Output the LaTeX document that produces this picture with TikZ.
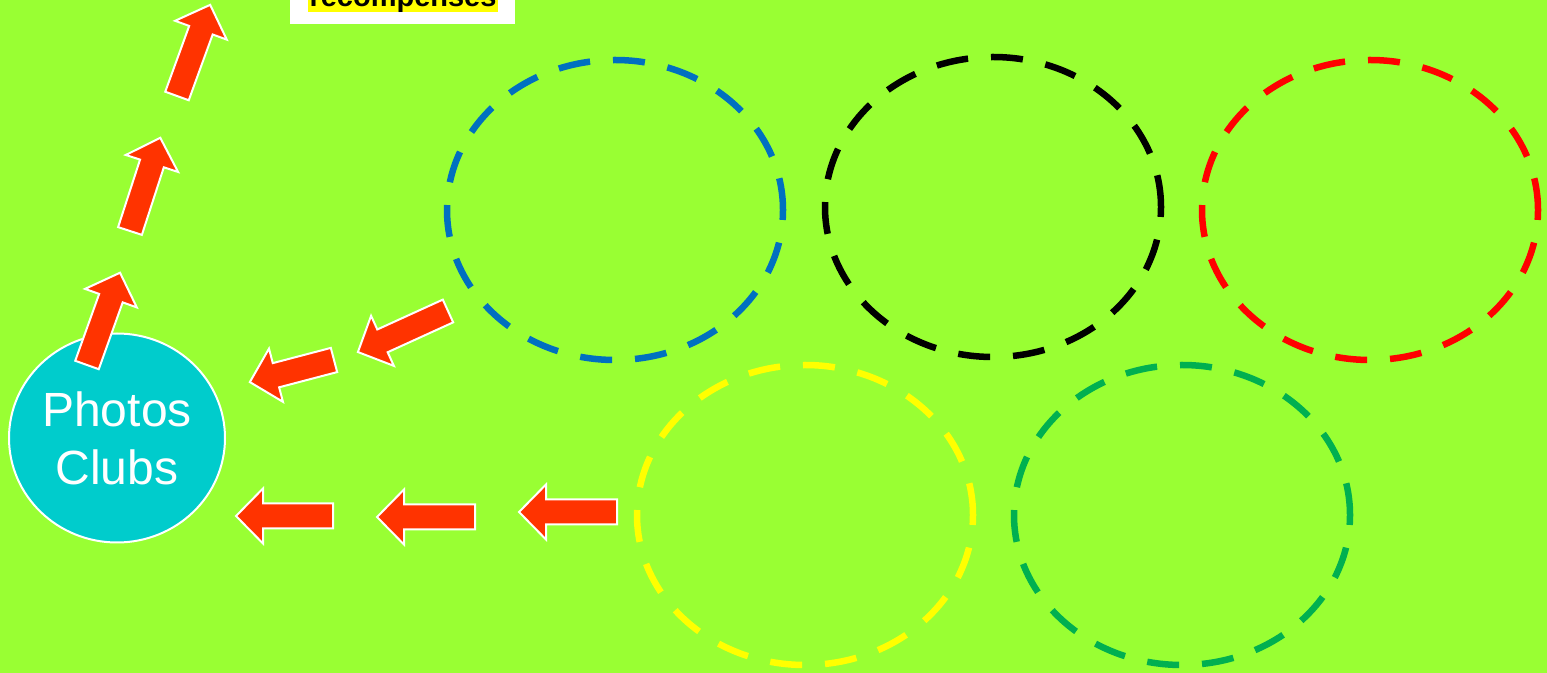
\documentclass[tikz,border=0pt]{standalone}
\usepackage{fontspec}
\setmainfont{Liberation Sans}
\usetikzlibrary{shapes.geometric}
\definecolor{bg}{RGB}{153,255,51}
\definecolor{arrowred}{RGB}{255,51,0}
\definecolor{clubcyan}{RGB}{0,204,204}
\definecolor{eblue}{RGB}{0,112,192}
\definecolor{ered}{RGB}{255,0,0}
\definecolor{eyellow}{RGB}{255,255,0}
\definecolor{egreen}{RGB}{0,176,80}
\tikzset{
  dashring/.style={shape=ellipse, draw, line width=6.5pt, dash pattern=on 32pt off 23pt,
    minimum width=336pt, minimum height=300pt, inner sep=0pt},
  blockarrow/.style={fill=arrowred, draw=white, line width=2pt, line join=miter},
  clubnode/.style={shape=ellipse, fill=clubcyan, draw=white, line width=2pt,
    minimum width=216pt, minimum height=209pt, inner sep=0pt, text=white,
    font=\fontsize{48}{58}\selectfont, align=center},
}
\newcommand\blockarr[3]{%
  \draw[blockarrow, shift={(#1)}, rotate=#2]
    (0,-12.5) -- (#3-27,-12.5) -- (#3-27,-27.5) -- (#3,0) -- (#3-27,27.5)
    -- (#3-27,12.5) -- (0,12.5) -- cycle;}
\begin{document}
\begin{tikzpicture}[x=1pt,y=1pt]
\useasboundingbox (0,0) rectangle (1547,672);
\fill[bg] (-10,-10) rectangle (1557,682);

% label at top
\node[fill=white, minimum width=225pt, minimum height=50pt, inner sep=0pt, anchor=south] (labelbox) at (402.5,648) {};
\node[fill=eyellow, inner xsep=2pt, inner ysep=0pt, text depth=5pt, anchor=base,
  font=\fontsize{29}{34}\selectfont\bfseries] (label) at (403,665) {recompenses};

% dashed ellipses
\node[dashring, draw=eblue] (eb) at (615,462) {};
\node[dashring, draw=black] (ek) at (993,465) {};
\node[dashring, draw=ered] (er) at (1370,462) {};
\node[dashring, draw=eyellow] (ey) at (805,157) {};
\node[dashring, draw=egreen] (eg) at (1182,157) {};

% Photos Clubs
\node[clubnode] (club) at (117,234) {Photos\\Clubs};

% arrow tails
\coordinate (h1) at (333,156);
\coordinate (h2) at (475,155);
\coordinate (h3) at (617,160);
\coordinate (d1) at (448,361);
\coordinate (d2) at (334,312);
\coordinate (u1) at (87,307);
\coordinate (u2) at (130,441);
\coordinate (u3) at (177,576);

\blockarr{h1}{180}{97}
\blockarr{h2}{180}{98}
\blockarr{h3}{180}{98}
\blockarr{d1}{204.5}{99}
\blockarr{d2}{194.7}{87}
\blockarr{u1}{70.3}{98}
\blockarr{u2}{72}{98}
\blockarr{u3}{70}{97}
\end{tikzpicture}
\end{document}
